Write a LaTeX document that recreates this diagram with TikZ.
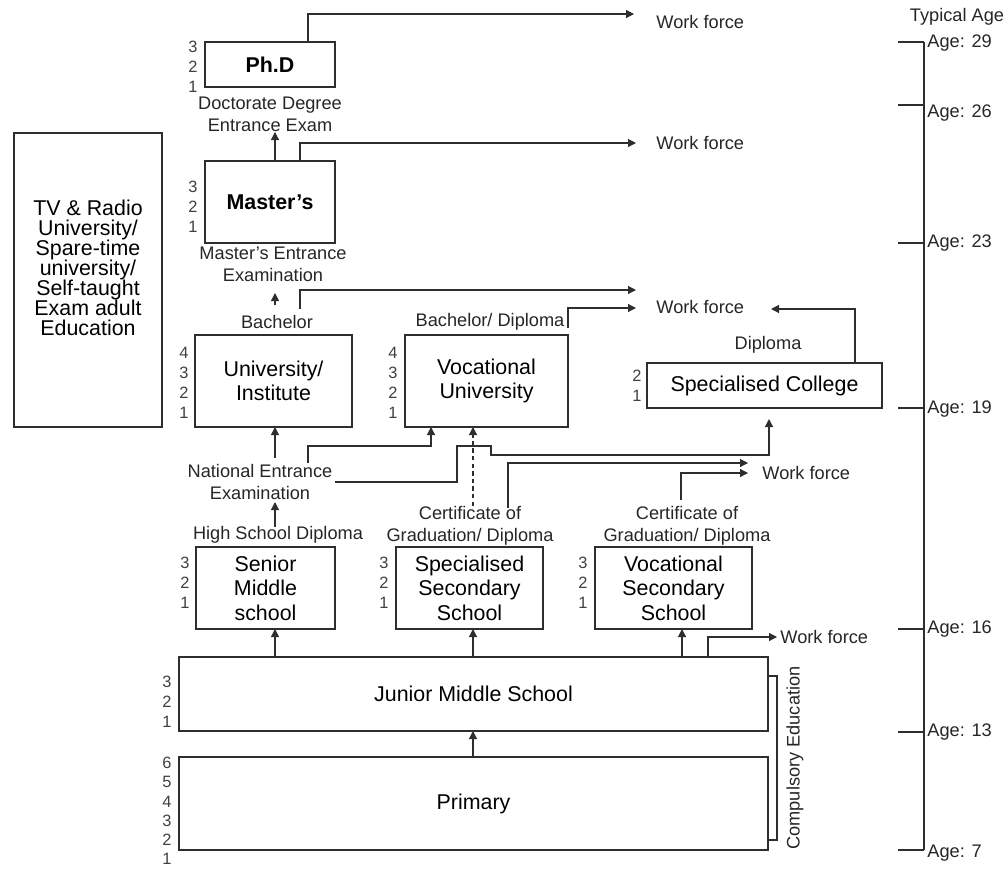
\documentclass[tikz,border=0pt]{standalone}
\usepackage{fontspec}
\setmainfont{Liberation Sans}
\usetikzlibrary{arrows.meta,calc}
\definecolor{ln}{HTML}{2E2E2E}
\newcommand{\boxfont}{\fontsize{10.7}{12.3}\selectfont}
\newcommand{\lblfont}{\fontsize{9.1}{11}\selectfont}
\newcommand{\numfont}{\fontsize{8.2}{10}\selectfont}
\newcommand{\adultfont}{\fontsize{10.7}{10}\selectfont}
\begin{document}
\begin{tikzpicture}[x=0.5pt,y=-0.5pt,
  box/.style={draw=ln, line width=0.6pt, rectangle, inner sep=0pt, outer sep=0pt, align=center, font=\boxfont},
  lbl/.style={inner sep=0pt, align=center, font=\lblfont, text=black!85},
  num/.style={inner sep=0pt, align=center, font=\numfont, text=black!75},
  conn/.style={draw=ln, line width=0.6pt},
  arr/.style={conn, -{Triangle[length=4pt,width=4pt]}},
]
\useasboundingbox (0,0) rectangle (1006,868);

% ---- left box
\node[box, minimum width=74pt, minimum height=147pt] (adult) at (88,280) {};
\node[inner sep=0pt, align=center, font=\adultfont] (adulttxt) at (88,268) {TV \& Radio\\University/\\Spare-time\\university/\\Self-taught\\Exam adult\\Education};

% ---- Ph.D
\node[box, minimum width=65pt, minimum height=22.5pt, font=\boxfont\bfseries] (phd) at (270,64.5) {Ph.D};
\node[num] (nphd) at (193,67) {3\\2\\1};
\coordinate (t1) at (634,14);
\draw[arr] ($(phd.north west)+(103,0)$) |- (t1);
\node[lbl, anchor=west] (wf1) at (656,22) {Work force};
\node[lbl] (doc) at (270,114) {Doctorate Degree\\Entrance Exam};

% ---- Master's
\node[box, minimum width=65pt, minimum height=41pt, font=\boxfont\bfseries] (masters) at (270,202) {Master’s};
\node[num] (nmas) at (193,207) {3\\2\\1};
\draw[arr] ($(masters.north)+(5,0)$) -- (275,132);
\coordinate (t2) at (636,143);
\draw[arr] ($(masters.north)+(30,0)$) |- (t2);
\node[lbl, anchor=west] (wf2) at (656,143) {Work force};
\node[lbl] (mexam) at (273,264) {Master’s Entrance\\Examination};

% ---- University / Institute
\node[box, minimum width=78.5pt, minimum height=46pt] (univ) at (273.5,381) {University/\\Institute};
\node[num] (nuniv) at (184,382.5) {4\\3\\2\\1};
\node[lbl] (bach) at (277,322) {Bachelor};
\draw[arr] (275,305) -- (275,293);
\coordinate (t3) at (636,290);
\draw[arr] (300,309) |- (t3);

% ---- Vocational University
\node[box, minimum width=81.5pt, minimum height=46pt] (vuniv) at (486.5,381) {Vocational\\University};
\node[num] (nvuniv) at (393,382.5) {4\\3\\2\\1};
\node[lbl] (bdip) at (490,322) {Bachelor/ Diploma};
\coordinate (t4) at (636,308);
\draw[arr] (568,328) |- (t4);
\node[lbl, anchor=west] (wf3) at (656,307) {Work force};

% ---- Specialised College
\node[box, minimum width=117.5pt, minimum height=22.5pt] (scol) at (764.5,385.5) {Specialised College};
\node[num] (nscol) at (637,386) {2\\1};
\node[lbl] (dip) at (768,345) {Diploma};
\coordinate (t5) at (771,309);
\draw[arr] ($(scol.north west)+(208,0)$) |- (t5);

% ---- entrance connectors
\node[lbl] (nat) at (260,482) {National Entrance\\Examination};
\draw[arr] (275,458) -- ($(univ.south)+(1.5,0)$);
\draw[arr] (308,463) |- ($(vuniv.south)+(-55.5,19)$) -- ($(vuniv.south)+(-55.5,0)$);
\draw[arr] (335,482) -- (457,482) -- (457,446) -- (491,446) -- (491,455) -- (769,455) -- ($(scol.south)+(4.5,11)$);
\draw[arr, dash pattern=on 2.2pt off 1.6pt] (473,506) -- ($(vuniv.south)+(-13.5,0)$);
\coordinate (t6) at (748,463);
\coordinate (t7) at (748,473);
\draw[arr] (508,508) |- (t6);
\draw[arr] (681,500) |- (t7);
\node[lbl, anchor=west] (wf4) at (762,473) {Work force};

\node[lbl] (hsd) at (278,535) {High School Diploma};
\draw[arr] (275,527) -- (275,502);
\node[lbl] (cert1) at (470,526) {Certificate of\\Graduation/ Diploma};
\node[lbl] (cert2) at (687,526) {Certificate of\\Graduation/ Diploma};

% ---- secondary schools
\node[box, minimum width=69.5pt, minimum height=41pt] (senior) at (265.5,588) {Senior\\Middle\\school};
\node[num] (nsen) at (185,583) {3\\2\\1};
\node[box, minimum width=73.5pt, minimum height=41pt] (specsec) at (469.5,588) {Specialised\\Secondary\\School};
\node[num] (nspec) at (384,583) {3\\2\\1};
\node[box, minimum width=78.5pt, minimum height=41pt] (vocsec) at (673.5,588) {Vocational\\Secondary\\School};
\node[num] (nvoc) at (583,583) {3\\2\\1};

% ---- junior & primary
\node[box, minimum width=294.5pt, minimum height=37pt] (junior) at (473.5,694) {Junior Middle School};
\node[num] (njun) at (167,702) {3\\2\\1};
\node[box, minimum width=294.5pt, minimum height=46.5pt] (primary) at (473.5,803.5) {Primary};
\node[num, font=\fontsize{8.2}{9.6}\selectfont] (nprim) at (167,811) {6\\5\\4\\3\\2\\1};

\draw[arr] ($(junior.north)+(-198.5,0)$) -- ($(senior.south)+(9.5,0)$);
\draw[arr] ($(junior.north)+(-0.5,0)$) -- ($(specsec.south)+(3.5,0)$);
\draw[arr] ($(junior.north)+(208.5,0)$) -- ($(vocsec.south)+(8.5,0)$);
\coordinate (t8) at (777,637);
\draw[arr] ($(junior.north)+(234.5,0)$) |- (t8);
\node[lbl, anchor=west] (wf5) at (780,637) {Work force};
\draw[arr] ($(primary.north)+(-0.5,0)$) -- ($(junior.south)+(-0.5,0)$);

% ---- compulsory bracket
\draw[conn] ($(junior.north east)+(0,19)$) -- ++(9,0) |- ($(primary.south east)+(0,-10)$);
\node[lbl, rotate=90] (comp) at (795,758) {Compulsory Education};

% ---- age axis
\coordinate (ax0) at (924,42);
\coordinate (ax1) at (924,850);
\draw[conn] (ax0) -- (ax1);
\node[lbl] (typ) at (957,17) {Typical Age};
\foreach \y/\t/\ly in {42/29/43, 105/26/113, 243/23/243, 408/19/409, 629/16/629, 732/13/732, 850/7/853} {
  \draw[conn] (898,\y) -- (924,\y);
  \node[lbl, anchor=west] (age\t) at (927,\ly) {Age: \t};
}
\end{tikzpicture}
\end{document}
